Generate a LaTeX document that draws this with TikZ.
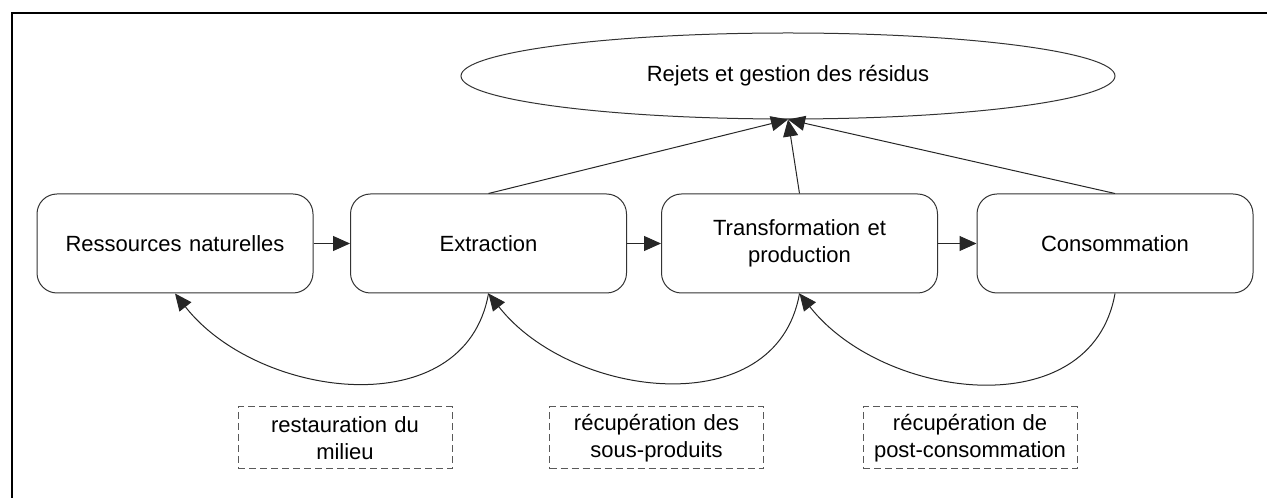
\documentclass[tikz,border=0pt]{standalone}
\usepackage{fontspec}
\setmainfont{Liberation Sans}
\usetikzlibrary{arrows.meta,shapes.geometric}

\begin{document}
\begin{tikzpicture}[x=1pt,y=1pt,
  font=\fontsize{22}{27}\selectfont,
  stage/.style={draw=black!80, line width=1pt, rounded corners=20pt,
    minimum width=276pt, minimum height=99pt, inner sep=0pt,
    align=center, text width=260pt},
  sink/.style={ellipse, draw=black!80, line width=1pt,
    minimum width=654pt, minimum height=86pt, inner sep=0pt},
  note/.style={draw=black!65, line width=1pt, dash pattern=on 7pt off 4pt,
    minimum width=214pt, minimum height=62pt, inner sep=0pt,
    align=center, text width=210pt},
  flow/.style={draw=black!85, line width=1pt,
    -{Triangle[length=17pt,width=15pt]}},
  loop/.style={flow, looseness=1.1, out=-100, in=-52}
]
\useasboundingbox (0,0) rectangle (1267,498);

% frame edges
\draw[line width=2pt] (11.5,0) -- (11.5,485) -- (1267,485);

% life-cycle stages
\node[stage] (res) at (175,254.5) {Ressources naturelles};
\node[stage] (ext) at (488.5,254.5) {Extraction};
\node[stage] (tra) at (799.5,254.5) {Transformation et\\production};
\node[stage] (con) at (1115,254.5) {Consommation};

% waste management
\node[sink] (rej) at (788,422) {Rejets et gestion des résidus};

% recovery labels
\node[note] (n1) at (345,60) {restauration du\\milieu};
\node[note] (n2) at (656.5,60) {récupération des\\sous-produits};
\node[note] (n3) at (970,60) {récupération de\\post-consommation};

% main chain
\draw[flow] (res.east) -- (ext.west);
\draw[flow] (ext.east) -- (tra.west);
\draw[flow] (tra.east) -- (con.west);

% rejects
\draw[flow] (ext.north) -- (rej.south);
\draw[flow] (tra.north) -- (rej.south);
\draw[flow] (con.north) -- (rej.south);

% recovery loops
\draw[loop] (ext.south) to (res.south);
\draw[loop] (tra.south) to (ext.south);
\draw[loop] (con.south) to (tra.south);
\end{tikzpicture}
\end{document}
